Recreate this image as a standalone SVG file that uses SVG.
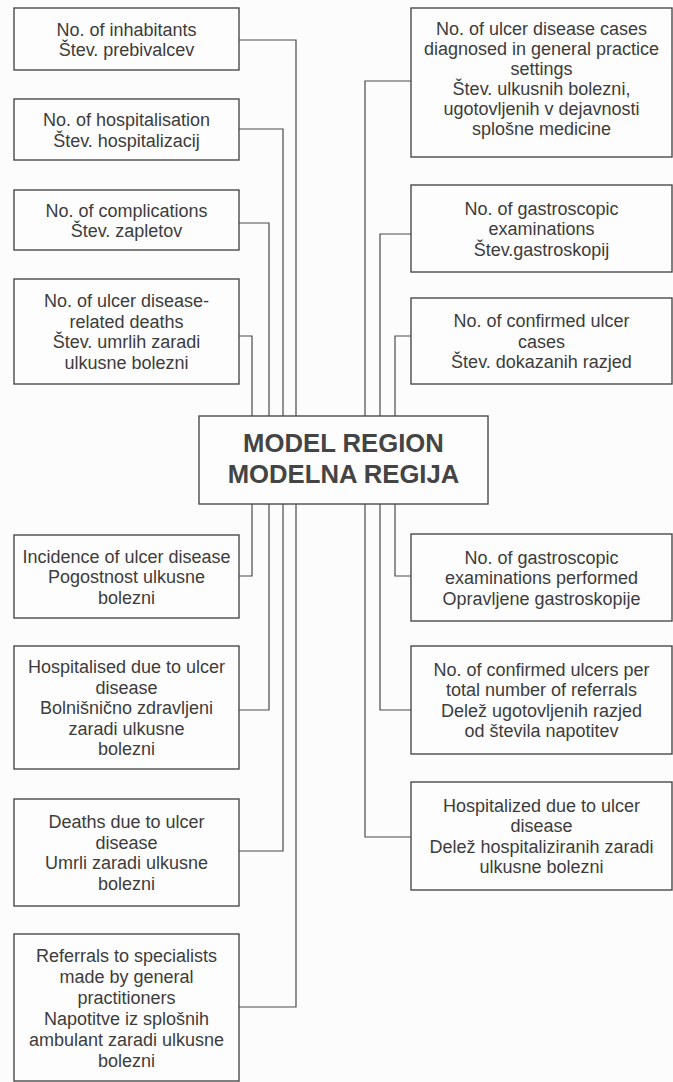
<svg xmlns="http://www.w3.org/2000/svg" width="673" height="1082" viewBox="0 0 673 1082">
<style>
.box{fill:#fdfdfd;stroke:#4a4a4a;stroke-width:1.4}
.t{font-family:"Liberation Sans",Arial,sans-serif;font-size:18px;fill:#3c3c3c;text-anchor:middle}
.c{font-family:"Liberation Sans",Arial,sans-serif;font-size:25.7px;font-weight:bold;fill:#444;text-anchor:middle}
.ln{fill:none;stroke:#4a4a4a;stroke-width:1.2}
</style>
<rect width="673" height="1082" fill="#fcfcfc"/>
<g id="connectors">
<polyline class="ln" points="239,40 296,40 296,416"/>
<polyline class="ln" points="239,129 283,129 283,416"/>
<polyline class="ln" points="239,223 269,223 269,416"/>
<polyline class="ln" points="239,336 252,336 252,416"/>
<polyline class="ln" points="252,504 252,576 239,576"/>
<polyline class="ln" points="269,504 269,710 239,710"/>
<polyline class="ln" points="283,504 283,851 239,851"/>
<polyline class="ln" points="296,504 296,1007 239,1007"/>
<polyline class="ln" points="411,81 365,81 365,416"/>
<polyline class="ln" points="411,234 380,234 380,416"/>
<polyline class="ln" points="411,336 395,336 395,416"/>
<polyline class="ln" points="395,504 395,576 411,576"/>
<polyline class="ln" points="380,504 380,710 411,710"/>
<polyline class="ln" points="365,504 365,837 411,837"/>
</g>
<g id="center">
<rect class="box" x="199" y="416" width="289" height="88"/>
<text class="c" x="343.5" y="452">MODEL REGION</text>
<text class="c" x="343.5" y="483">MODELNA REGIJA</text>
</g>
<g id="L1">
<rect class="box" x="14" y="8" width="225" height="62"/>
<text class="t" x="126.5" y="35.5">No. of inhabitants</text>
<text class="t" x="126.5" y="56">Štev. prebivalcev</text>
</g>
<g id="L2">
<rect class="box" x="14" y="99" width="225" height="61"/>
<text class="t" x="126.5" y="126">No. of hospitalisation</text>
<text class="t" x="126.5" y="146.5">Štev. hospitalizacij</text>
</g>
<g id="L3">
<rect class="box" x="14" y="190" width="225" height="60"/>
<text class="t" x="126.5" y="216.5">No. of complications</text>
<text class="t" x="126.5" y="237">Štev. zapletov</text>
</g>
<g id="L4">
<rect class="box" x="14" y="279" width="225" height="105"/>
<text class="t" x="126.5" y="307">No. of ulcer disease-</text>
<text class="t" x="126.5" y="327.5">related deaths</text>
<text class="t" x="126.5" y="348">Štev. umrlih zaradi</text>
<text class="t" x="126.5" y="368.5">ulkusne bolezni</text>
</g>
<g id="L5">
<rect class="box" x="14" y="535" width="225" height="83"/>
<text class="t" x="126.5" y="562.5">Incidence of ulcer disease</text>
<text class="t" x="126.5" y="583">Pogostnost ulkusne</text>
<text class="t" x="126.5" y="603.5">bolezni</text>
</g>
<g id="L6">
<rect class="box" x="14" y="646" width="225" height="123"/>
<text class="t" x="126.5" y="673">Hospitalised due to ulcer</text>
<text class="t" x="126.5" y="693.5">disease</text>
<text class="t" x="126.5" y="714">Bolnišnično zdravljeni</text>
<text class="t" x="126.5" y="734.5">zaradi ulkusne</text>
<text class="t" x="126.5" y="755">bolezni</text>
</g>
<g id="L7">
<rect class="box" x="14" y="799" width="225" height="107"/>
<text class="t" x="126.5" y="828">Deaths due to ulcer</text>
<text class="t" x="126.5" y="848.5">disease</text>
<text class="t" x="126.5" y="869">Umrli zaradi ulkusne</text>
<text class="t" x="126.5" y="889.5">bolezni</text>
</g>
<g id="L8">
<rect class="box" x="14" y="934" width="225" height="147"/>
<text class="t" x="126.5" y="962">Referrals to specialists</text>
<text class="t" x="126.5" y="983">made by general</text>
<text class="t" x="126.5" y="1004">practitioners</text>
<text class="t" x="126.5" y="1025">Napotitve iz splošnih</text>
<text class="t" x="126.5" y="1046">ambulant zaradi ulkusne</text>
<text class="t" x="126.5" y="1067">bolezni</text>
</g>
<g id="R1">
<rect class="box" x="411" y="8" width="261" height="149"/>
<text class="t" x="541.5" y="35">No. of ulcer disease cases</text>
<text class="t" x="541.5" y="55">diagnosed in general practice</text>
<text class="t" x="541.5" y="75">settings</text>
<text class="t" x="541.5" y="95">Štev. ulkusnih bolezni,</text>
<text class="t" x="541.5" y="115">ugotovljenih v dejavnosti</text>
<text class="t" x="541.5" y="135">splošne medicine</text>
</g>
<g id="R2">
<rect class="box" x="411" y="185" width="261" height="87"/>
<text class="t" x="541.5" y="214.5">No. of gastroscopic</text>
<text class="t" x="541.5" y="235">examinations</text>
<text class="t" x="541.5" y="255.5">Štev.gastroskopij</text>
</g>
<g id="R3">
<rect class="box" x="411" y="298" width="261" height="86"/>
<text class="t" x="541.5" y="327">No. of confirmed ulcer</text>
<text class="t" x="541.5" y="347.5">cases</text>
<text class="t" x="541.5" y="368">Štev. dokazanih razjed</text>
</g>
<g id="R4">
<rect class="box" x="411" y="534" width="261" height="87"/>
<text class="t" x="541.5" y="563.5">No. of gastroscopic</text>
<text class="t" x="541.5" y="584">examinations performed</text>
<text class="t" x="541.5" y="604.5">Opravljene gastroskopije</text>
</g>
<g id="R5">
<rect class="box" x="411" y="646" width="261" height="108"/>
<text class="t" x="541.5" y="675.5">No. of confirmed ulcers per</text>
<text class="t" x="541.5" y="696">total number of referrals</text>
<text class="t" x="541.5" y="716.5">Delež ugotovljenih razjed</text>
<text class="t" x="541.5" y="737">od števila napotitev</text>
</g>
<g id="R6">
<rect class="box" x="411" y="782" width="261" height="108"/>
<text class="t" x="541.5" y="811.5">Hospitalized due to ulcer</text>
<text class="t" x="541.5" y="832">disease</text>
<text class="t" x="541.5" y="852.5">Delež hospitaliziranih zaradi</text>
<text class="t" x="541.5" y="873">ulkusne bolezni</text>
</g>
</svg>
